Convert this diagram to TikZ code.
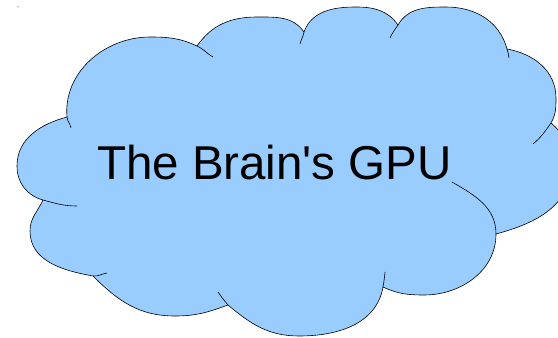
\documentclass[tikz,border=0pt]{standalone}
\usepackage{fontspec}
\setmainfont{Liberation Sans}
\definecolor{cloudblue}{HTML}{99CCFF}
\begin{document}
\begin{tikzpicture}[x=1pt,y=1pt,cloudline/.style={draw=black,line width=0.6pt}]
    \useasboundingbox (0,0) rectangle (558,338);
    \clip (0,0) rectangle (558,338);
    %% junctions between the lobes
    \coordinate (A) at (67,221);
    \coordinate (B) at (197,292);
    \coordinate (C) at (304,306);
    \coordinate (D) at (398,313);
    \coordinate (E) at (507,289);
    \coordinate (F) at (551,215);
    \coordinate (G) at (496,104);
    \coordinate (H) at (383,51);
    \coordinate (I) at (228,33);
    \coordinate (J) at (93,62);
    \coordinate (K) at (43,138);
    %% outline
    \path[fill=cloudblue,cloudline]
        (K) to[out=165,in=-90] (17,172) to[out=90,in=195] (A)
        to[out=95,in=180] (150,301) to[out=0,in=155] (B)
        to[out=55,in=180] (257,321) to[out=0,in=125] (C)
        to[out=70,in=180] (356,331) to[out=0,in=125] (D)
        to[out=60,in=180] (446,331) to[out=0,in=105] (E)
        to[out=-10,in=90] (556,240) to[out=-90,in=60] (F)
        to[out=-40,in=90] (570,170) to[out=-90,in=15] (G)
        to[out=-90,in=0] (424,43) to[out=180,in=-25] (H)
        to[out=-100,in=0] (299,2) to[out=180,in=-40] (I)
        to[out=200,in=0] (175,22) to[out=180,in=-45] (J)
        to[out=170,in=-90] (30,107) to[out=90,in=245] (K) -- cycle;
    %% tails of the lobes
    \draw[cloudline] (A) to[out=-85,in=100] (71,210);
    \draw[cloudline] (B) to[out=-25,in=150] (213,281);
    \draw[cloudline] (C) to[out=-100,in=75] (300,294);
    \draw[cloudline] (D) to[out=-125,in=65] (390,300);
    \draw[cloudline] (E) to[out=-75,in=95] (509,280);
    \draw[cloudline] (F) to[out=-125,in=40] (533,194);
    \draw[cloudline] (452,156) to[out=-30,in=90] (G);
    \draw[cloudline] (H) to[out=80,in=-95] (385,66);
    \draw[cloudline] (I) to[out=130,in=-55] (218,46);
    \draw[cloudline] (J) to[out=-5,in=190] (107,65);
    \draw[cloudline] (K) to[out=-15,in=180] (77,132);
    \fill (18,331) circle (0.5);
    %% label
    \node[inner sep=0pt,anchor=base] (title) at (274.5,158) {\fontsize{47.5}{52}\selectfont The Brain\textquotesingle s GPU};
\end{tikzpicture}
\end{document}
